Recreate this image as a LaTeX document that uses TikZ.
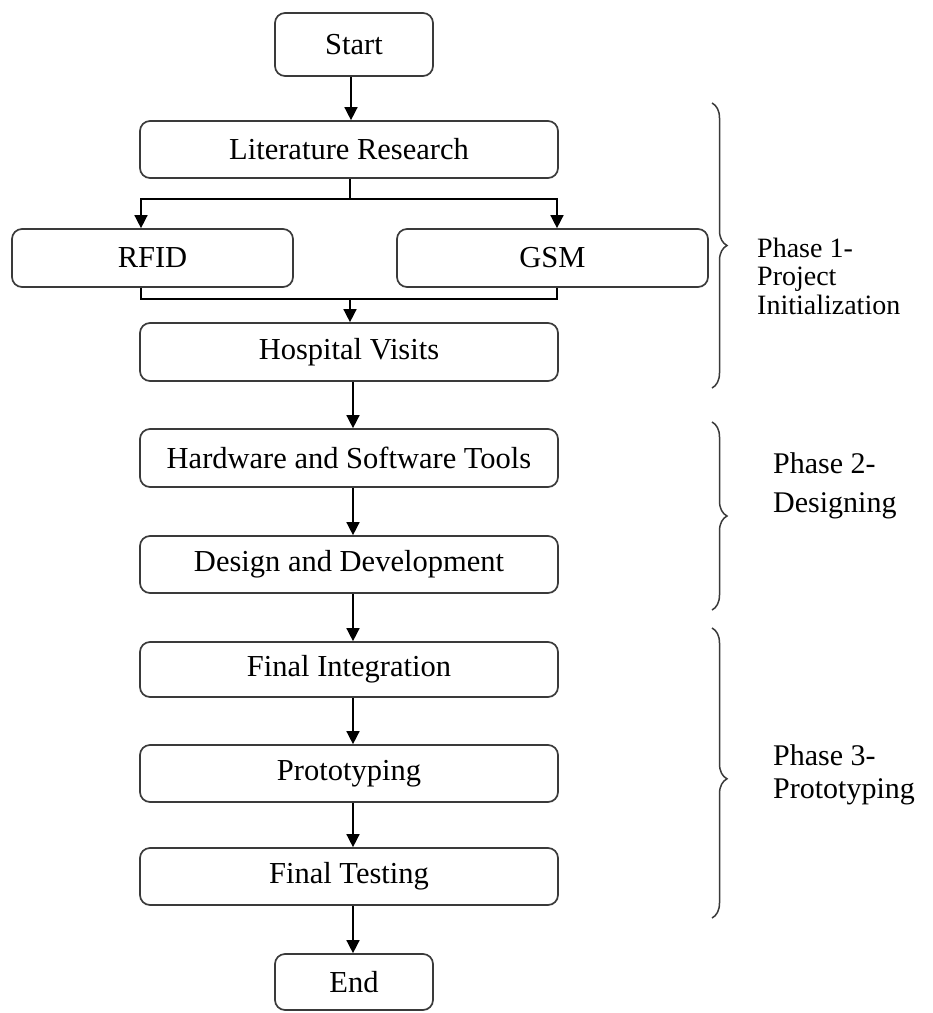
\documentclass[tikz,border=0pt]{standalone}
\usepackage{fontspec}
\setmainfont{Liberation Serif}
\usetikzlibrary{arrows.meta,decorations.pathreplacing}
\definecolor{edge}{HTML}{3A3A3A}
\begin{document}
\begin{tikzpicture}[x=1pt,y=-1pt,
  stepbox/.style={draw=edge,line width=1.7pt,rounded corners=10pt,fill=white,
    minimum width=418pt,minimum height=57pt,inner sep=0pt,
    font=\fontsize{30.5}{36}\selectfont},
  termbox/.style={stepbox,minimum width=158pt},
  link/.style={draw=black,line width=1.5pt},
  arr/.style={link,-{Triangle[length=13pt,width=13pt]}},
  phasebrace/.style={draw=edge,line width=1.5pt,decorate,
    decoration={brace,amplitude=15pt}},
  phase/.style={anchor=base west,inner sep=0pt,font=\fontsize{30}{36}\selectfont},
  phasetight/.style={phase,font=\fontsize{28}{32}\selectfont}]
\useasboundingbox (0,0) rectangle (933,1013);

% process boxes
\node[termbox,minimum height=63pt] (start) at (354,44.5) {Start};
\node[stepbox] (lit)   at (349,149.5) {Literature Research};
\node[stepbox,minimum width=281pt,minimum height=58pt] (rfid) at (152.5,258) {RFID};
\node[stepbox,minimum width=311pt,minimum height=58pt] (gsm)  at (552.5,258) {GSM};
\node[stepbox,minimum height=58pt] (hosp)  at (349,352) {Hospital Visits};
\node[stepbox,minimum height=58pt] (hw)    at (349,458) {Hardware and Software Tools};
\node[stepbox] (dd)    at (349,564.5) {Design and Development};
\node[stepbox,minimum height=55pt] (fi)    at (349,669.5) {Final Integration};
\node[stepbox] (proto) at (349,773.5) {Prototyping};
\node[stepbox] (ft)    at (349,876.5) {Final Testing};
\node[termbox,minimum height=56pt] (end) at (354,982) {End};

% connectors
\coordinate (upx) at (351,0);
\coordinate (lowx) at (353,0);
\coordinate (split) at (350,199);
\coordinate (join) at (350,299);

\draw[arr] (start.south -| upx) -- (lit.north -| upx);
\draw[link] (lit.south -| split) -- (split);
\draw[arr] (split) -| ([xshift=-11.5pt]rfid.north);
\draw[arr] (split) -| ([xshift=4.5pt]gsm.north);
\draw[link] ([xshift=-11.5pt]rfid.south) |- (join) -| ([xshift=4.5pt]gsm.south);
\draw[arr] (join) -- (hosp.north -| join);
\draw[arr] (hosp.south -| lowx) -- (hw.north -| lowx);
\draw[arr] (hw.south -| lowx) -- (dd.north -| lowx);
\draw[arr] (dd.south -| lowx) -- (fi.north -| lowx);
\draw[arr] (fi.south -| lowx) -- (proto.north -| lowx);
\draw[arr] (proto.south -| lowx) -- (ft.north -| lowx);
\draw[arr] (ft.south -| lowx) -- (end.north -| lowx);

% phase braces
\draw[phasebrace] (712,103) -- (712,388);
\draw[phasebrace] (712,422) -- (712,610);
\draw[phasebrace,decoration={brace,amplitude=15pt,aspect=0.52}] (712,628) -- (712,918);

% phase labels
\node[phasetight] (p1a) at (757,257) {Phase 1-};
\node[phasetight] (p1b) at (757,285) {Project};
\node[phasetight] (p1c) at (757,314) {Initialization};
\node[phase] (p2a) at (773,473) {Phase 2-};
\node[phase] (p2b) at (773,512) {Designing};
\node[phase] (p3a) at (773,765) {Phase 3-};
\node[phase] (p3b) at (773,798) {Prototyping};
\end{tikzpicture}
\end{document}
